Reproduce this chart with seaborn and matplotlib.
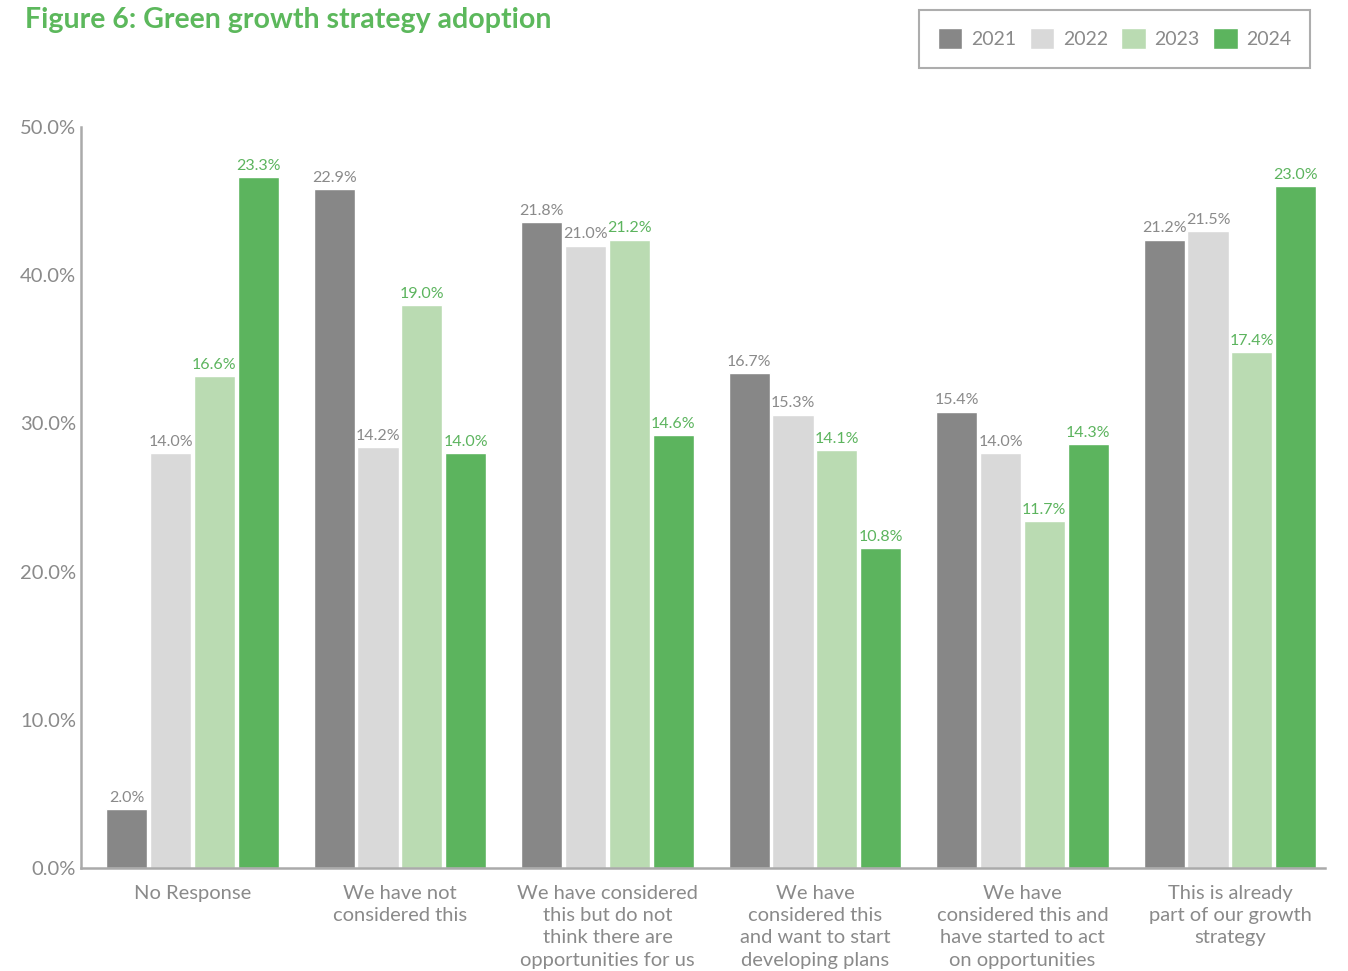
import matplotlib
matplotlib.use("Agg")
import matplotlib.pyplot as plt
import seaborn as sns
import pandas as pd

categories = [
    "No Response",
    "We have not\nconsidered this",
    "We have considered\nthis but do not\nthink there are\nopportunities for us",
    "We have\nconsidered this\nand want to start\ndeveloping plans",
    "We have\nconsidered this and\nhave started to act\non opportunities",
    "This is already\npart of our growth\nstrategy",
]
years = ["2021", "2022", "2023", "2024"]
values_2021 = [2.0, 22.9, 21.8, 16.7, 15.4, 21.2]
values_2022 = [14.0, 14.2, 21.0, 15.3, 14.0, 21.5]
values_2023 = [16.6, 19.0, 21.2, 14.1, 11.7, 17.4]
values_2024 = [23.3, 14.0, 14.6, 10.8, 14.3, 23.0]
y_tick_labels = ["0.0%", "10.0%", "20.0%", "30.0%", "40.0%", "50.0%"]

colors = ["#878787", "#d9d9d9", "#badbb2", "#5cb45e"]
label_colors = ["#8a8a8a", "#8a8a8a", "#5cb45e", "#5cb45e"]
grey_text = "#8a8a8a"

series = [values_2021, values_2022, values_2023, values_2024]
df = pd.DataFrame(
    [(c, y, v) for y, vals in zip(years, series) for c, v in zip(categories, vals)],
    columns=["category", "year", "value"],
)

sns.set_theme(style="white")
plt.rcParams["font.family"] = ["Lato", "DejaVu Sans"]

fig = plt.figure(figsize=(13.48, 9.71), dpi=100)
ax = fig.add_axes([81 / 1348, 103 / 971, (1325 - 81) / 1348, (868 - 127) / 971])

sns.barplot(
    data=df, x="category", y="value", hue="year", order=categories,
    hue_order=years, palette=colors, width=0.845, gap=0.06,
    saturation=1, legend=True, ax=ax,
)

for cont, col in zip(ax.containers, label_colors):
    ax.bar_label(cont, fmt="%.1f%%", padding=3, color=col, fontsize=11.5)

ax.set_xlim(-0.537, 5.458)
ax.set_ylim(0, 25)
ax.set_yticks([0, 5, 10, 15, 20, 25])
ax.set_yticklabels(y_tick_labels)
ax.set_xlabel("")
ax.set_ylabel("")
ax.tick_params(axis="both", length=0, colors=grey_text, labelsize=14.5)
ax.tick_params(axis="x", pad=12)
for lbl in ax.get_xticklabels():
    lbl.set_linespacing(1.38)
    lbl.set_verticalalignment("top")

for s in ["top", "right"]:
    ax.spines[s].set_visible(False)
for s in ["left", "bottom"]:
    ax.spines[s].set_color("#aaaaaa")
    ax.spines[s].set_linewidth(1.8)

handles, labels = ax.get_legend_handles_labels()
ax.legend_.remove()
leg = fig.legend(
    handles, labels, loc="upper right", ncol=4,
    bbox_to_anchor=(1310 / 1348, 1 - 10 / 971), bbox_transform=fig.transFigure,
    frameon=True, fancybox=False, edgecolor="#999999", fontsize=14,
    handlelength=1.25, handleheight=1.25, handletextpad=0.45, columnspacing=0.7,
    borderpad=0.95, borderaxespad=0,
)
leg.get_frame().set_linewidth(1.5)
for t in leg.get_texts():
    t.set_color(grey_text)

fig.text(25 / 1348, 1 - 20 / 971, "Figure 6: Green growth strategy adoption",
         color="#5cb85c", fontsize=20.5, fontweight="bold", va="center", ha="left")

fig.savefig("out.png", dpi=100)
